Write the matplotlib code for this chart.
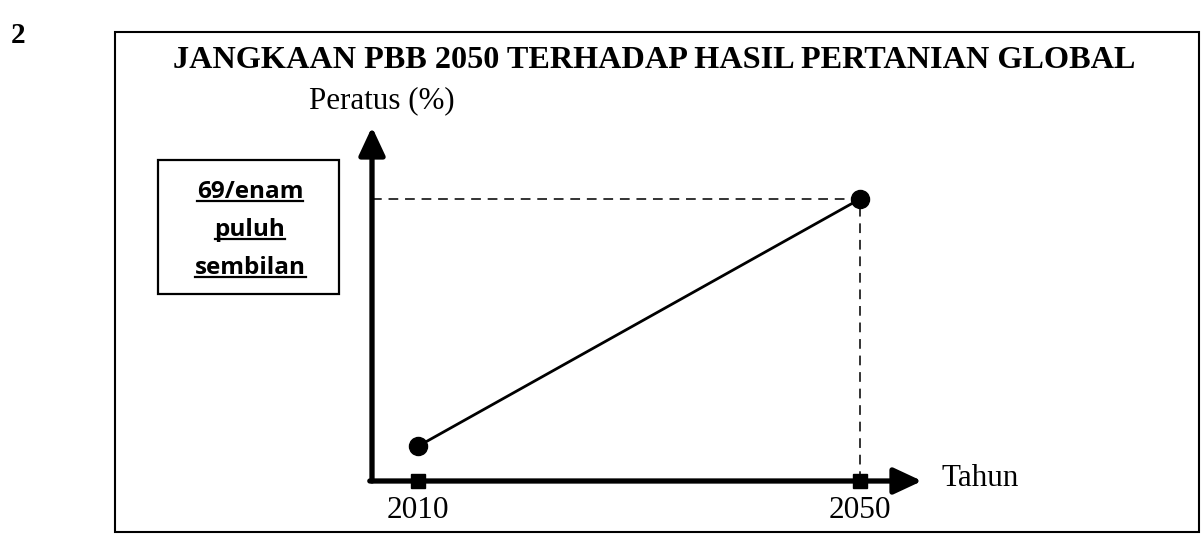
import matplotlib
matplotlib.use('Agg')
import matplotlib.pyplot as plt
from matplotlib.patches import Rectangle
from matplotlib.lines import Line2D

years = [2010, 2050]
percent = [8.5, 69]
title = 'JANGKAAN PBB 2050 TERHADAP HASIL PERTANIAN GLOBAL'
ylabel = 'Peratus (%)'
xlabel = 'Tahun'
answer_lines = ['69/enam', 'puluh', 'sembilan']

W, H = 1202, 534
fig = plt.figure(figsize=(W / 100, H / 100), dpi=100)

def fx(x):
    return x / W

def fy(y):
    return 1 - y / H

serif = 'Liberation Serif'

# outer frame and answer box
fig.patches.append(Rectangle((fx(115), fy(532)), fx(1199) - fx(115), fy(32) - fy(532),
                             transform=fig.transFigure, fill=False, lw=1.5, ec='black'))
fig.patches.append(Rectangle((fx(158), fy(294)), fx(339) - fx(158), fy(160) - fy(294),
                             transform=fig.transFigure, fill=False, lw=1.6, ec='black'))

fig.text(fx(11), fy(36), '2', fontfamily=serif, fontweight='bold', fontsize=21, va='center', ha='left')
fig.text(fx(654), fy(60), title, fontfamily=serif, fontweight='bold', fontsize=23.2, ha='center', va='center')
fig.text(fx(382), fy(101), ylabel, fontfamily=serif, fontsize=22.3, ha='center', va='center')
fig.text(fx(941), fy(478), xlabel, fontfamily=serif, fontsize=22.4, ha='left', va='center')

# main axes
ax = fig.add_axes([fx(372), fy(481), fx(922) - fx(372), fy(127) - fy(481)])
ax.set_xlim(2005.84, 2055.6)
ax.set_ylim(0, 86.6)
ax.axis('off')

arrow = dict(arrowstyle='-|>,head_length=0.9,head_width=0.42', lw=3.8, color='black',
             shrinkA=0, shrinkB=0, mutation_scale=19)
ax.annotate('', xy=(1, 0), xytext=(-0.004, 0), xycoords='axes fraction', arrowprops=arrow)
ax.annotate('', xy=(0, 1), xytext=(0, 0), xycoords='axes fraction', arrowprops=arrow)

x0 = ax.get_xlim()[0]
ax.hlines(percent[1], x0, years[1], colors='#333333', linestyles=(0, (5, 3.5)), lw=1.4)
ax.vlines(years[1], 0, percent[1], colors='#333333', linestyles=(0, (5, 3.5)), lw=1.4)
ax.plot(years, percent, color='black', lw=2, marker='o', markersize=13, clip_on=False)
ax.plot(years, [0, 0], 's', color='black', markersize=9.5, clip_on=False, zorder=5)

for yr in years:
    ax.text(yr, -7.3, str(yr), fontfamily=serif, fontsize=22.5, ha='center', va='center')

# answer text with underline
line_y = [192, 230, 268]
texts = []
for s, yy in zip(answer_lines, line_y):
    texts.append(fig.text(fx(250), fy(yy), s, fontfamily='Open Sans', fontweight='bold',
                          fontsize=17.5, ha='center', va='center'))
fig.canvas.draw()
r = fig.canvas.get_renderer()
for t in texts:
    bb = t.get_window_extent(r)
    uy = bb.y0 + 3
    fig.lines.append(Line2D([bb.x0 / W, bb.x1 / W], [uy / H, uy / H], transform=fig.transFigure,
                            color='black', lw=1.6))

fig.savefig('out.png', dpi=100)
